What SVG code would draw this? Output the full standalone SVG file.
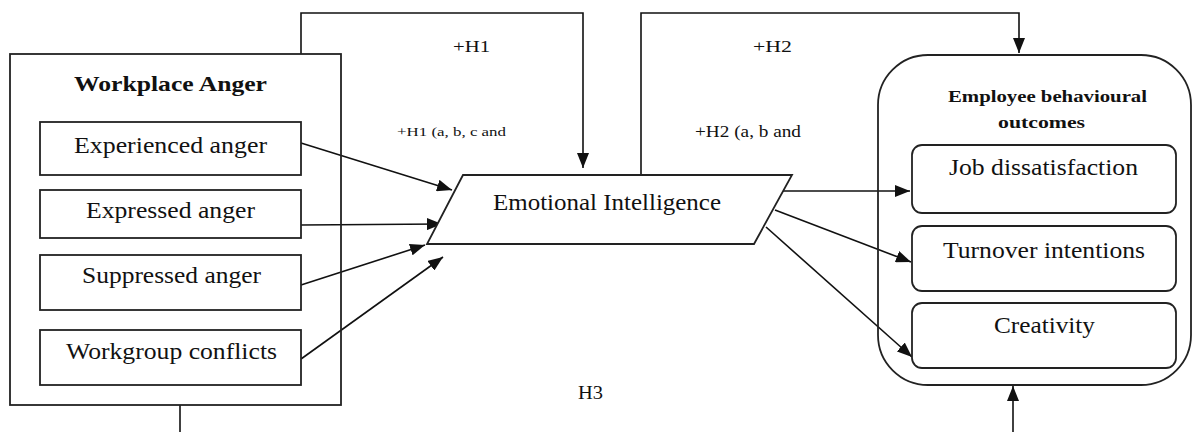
<svg xmlns="http://www.w3.org/2000/svg" width="1194" height="432" viewBox="0 0 1194 432">
<defs>
<marker id="arr" markerUnits="userSpaceOnUse" markerWidth="15" markerHeight="12" refX="15" refY="6" orient="auto">
<path d="M0,0 L15,6 L0,12 Z" fill="#111"/>
</marker>
<style>
.box{fill:#fff;stroke:#222;stroke-width:1.8}
.ln{fill:none;stroke:#111;stroke-width:1.6}
.arr{fill:none;stroke:#111;stroke-width:1.6;marker-end:url(#arr)}
text{font-family:"Liberation Serif","Times New Roman",serif;fill:#111}
.t{font-size:23px}
.b{font-weight:bold}
</style>
</defs>
<rect width="1194" height="432" fill="#fff"/>
<g id="connectors">
<polyline class="arr" points="301,54 301,13 583,13 583,168"/>
<polyline class="arr" points="641,175 641,13 1019,13 1019,53"/>
<line class="ln" x1="180" y1="405" x2="180" y2="432"/>
<line class="arr" x1="1013" y1="432" x2="1013" y2="386"/>
<line class="arr" x1="301" y1="143" x2="452" y2="190"/>
<line class="arr" x1="301" y1="225" x2="442" y2="224"/>
<line class="arr" x1="301" y1="285" x2="425" y2="245"/>
<line class="arr" x1="301" y1="359" x2="443" y2="257"/>
<line class="arr" x1="783" y1="191" x2="910" y2="191"/>
<line class="arr" x1="775" y1="210" x2="911" y2="262"/>
<line class="arr" x1="766" y1="227" x2="912" y2="357"/>
</g>
<g id="workplace-anger">
<rect class="box" x="10" y="54" width="331" height="351" style="fill:none"/>
<text class="b" x="74" y="91" font-size="21" textLength="193" lengthAdjust="spacingAndGlyphs">Workplace Anger</text>
</g>
<g id="experienced-anger">
<rect class="box" x="40" y="122" width="261" height="53"/>
<text class="t" x="74" y="153" textLength="193" lengthAdjust="spacingAndGlyphs">Experienced anger</text>
</g>
<g id="expressed-anger">
<rect class="box" x="40" y="190" width="261" height="48"/>
<text class="t" x="86" y="218" textLength="169" lengthAdjust="spacingAndGlyphs">Expressed anger</text>
</g>
<g id="suppressed-anger">
<rect class="box" x="40" y="255" width="261" height="55"/>
<text class="t" x="82" y="283" textLength="179" lengthAdjust="spacingAndGlyphs">Suppressed anger</text>
</g>
<g id="workgroup-conflicts">
<rect class="box" x="40" y="330" width="261" height="55"/>
<text class="t" x="66" y="359" textLength="211" lengthAdjust="spacingAndGlyphs">Workgroup conflicts</text>
</g>
<g id="emotional-intelligence">
<polygon class="box" points="463,175 792,175 754,244 427,244"/>
<text class="t" x="493" y="210" textLength="228" lengthAdjust="spacingAndGlyphs">Emotional Intelligence</text>
</g>
<g id="employee-outcomes">
<rect class="box" x="878" y="55" width="313" height="330" rx="50" ry="50" style="fill:none"/>
<text class="b" x="948" y="102" font-size="17" textLength="199" lengthAdjust="spacingAndGlyphs">Employee behavioural</text>
<text class="b" x="998" y="128" font-size="17" textLength="87" lengthAdjust="spacingAndGlyphs">outcomes</text>
</g>
<g id="job-dissatisfaction">
<rect class="box" x="912" y="145" width="264" height="68" rx="10" ry="10"/>
<text class="t" x="949" y="175" textLength="189" lengthAdjust="spacingAndGlyphs">Job dissatisfaction</text>
</g>
<g id="turnover-intentions">
<rect class="box" x="912" y="226" width="264" height="65" rx="10" ry="10"/>
<text class="t" x="943" y="258" textLength="202" lengthAdjust="spacingAndGlyphs">Turnover intentions</text>
</g>
<g id="creativity">
<rect class="box" x="912" y="303" width="264" height="65" rx="10" ry="10"/>
<text class="t" x="994" y="333" textLength="101" lengthAdjust="spacingAndGlyphs">Creativity</text>
</g>
<g id="labels">
<text x="453" y="52" font-size="17" textLength="37" lengthAdjust="spacingAndGlyphs">+H1</text>
<text x="397" y="136" font-size="13" textLength="109" lengthAdjust="spacingAndGlyphs">+H1 (a, b, c and</text>
<text x="753" y="52" font-size="17" textLength="39" lengthAdjust="spacingAndGlyphs">+H2</text>
<text x="695" y="137" font-size="17" textLength="106" lengthAdjust="spacingAndGlyphs">+H2 (a, b and</text>
<text x="578" y="399" font-size="18" textLength="25" lengthAdjust="spacingAndGlyphs">H3</text>
</g>
</svg>
